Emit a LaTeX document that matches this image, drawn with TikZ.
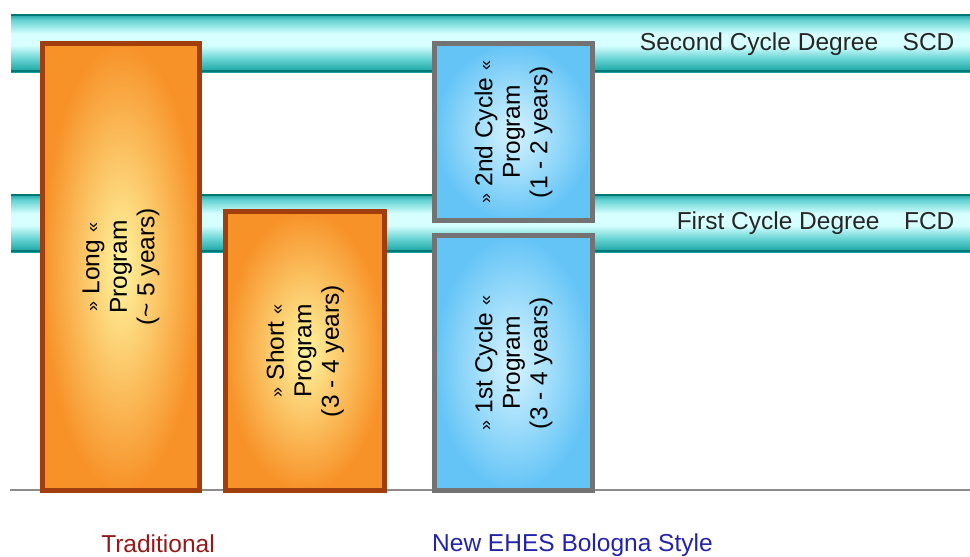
\documentclass[tikz,border=0pt]{standalone}
\usepackage{fontspec}
\setmainfont{Liberation Sans}
\usepackage{tikz}
\usetikzlibrary{positioning}

\definecolor{bandteal}{RGB}{22,160,160}
\definecolor{banddark}{RGB}{0,120,120}
\definecolor{bandmid}{RGB}{100,210,210}
\definecolor{bandlight}{RGB}{215,255,255}
\definecolor{boxorange}{RGB}{247,146,40}
\definecolor{palegold}{RGB}{255,245,160}
\definecolor{rustbrown}{RGB}{160,62,14}
\definecolor{skyblue}{RGB}{100,196,246}
\definecolor{paleblue}{RGB}{215,244,255}
\definecolor{slategray}{RGB}{115,115,115}
\definecolor{axisgray}{RGB}{140,140,140}
\definecolor{oldred}{RGB}{150,25,25}
\definecolor{newblue}{RGB}{35,35,170}

\newcommand{\gopen}{\raisebox{1pt}{\fontsize{18}{18}\selectfont»}}
\newcommand{\gclose}{\raisebox{1pt}{\fontsize{18}{18}\selectfont«}}

\pgfdeclareverticalshading{tube}{100bp}{color(0bp)=(bandteal); color(25bp)=(bandteal);
  color(36bp)=(bandmid); color(48bp)=(bandlight); color(58bp)=(bandlight);
  color(70bp)=(bandmid); color(75bp)=(bandteal); color(100bp)=(bandteal)}

\begin{document}
\begin{tikzpicture}[x=1pt,y=-1pt,
  every node/.style={font=\fontsize{24.5}{27.5}\selectfont},
  band/.style={shading=tube},
  rim/.style={banddark, line width=2pt},
  oldbox/.style={draw=rustbrown, line width=5pt, inner color=palegold, outer color=boxorange,
    rotate=90, align=center, inner sep=0pt},
  newbox/.style={draw=slategray, line width=5pt, inner color=paleblue, outer color=skyblue,
    rotate=90, align=center, inner sep=0pt}]
\useasboundingbox (0,0) rectangle (970,557);

% degree bands
\shade[band] (11,14) rectangle (970,72);
\draw[rim] (11,15) -- (970,15) (11,71) -- (970,71);
\shade[band] (11,194) rectangle (970,252);
\draw[rim] (11,195) -- (970,195) (11,251) -- (970,251);
\node[anchor=east, text=black!85] (scd) at (958,44) {Second Cycle Degree\quad SCD};
\node[anchor=east, text=black!85] (fcd) at (958,223) {First Cycle Degree\quad FCD};

% time axis
\coordinate (axisL) at (10,490);
\coordinate (axisR) at (970,490);
\draw[axisgray, line width=2.5pt] (axisL) -- (axisR);

% traditional programs
\node[oldbox, minimum width=447pt, minimum height=157pt] (long) at (121,267)
  {\gopen\ Long \gclose\\ Program\\ (\textasciitilde\ 5 years)};
\node[oldbox, minimum width=279pt, minimum height=159pt] (short) at (305,351)
  {\gopen\ Short \gclose\\ Program\\ (3 - 4 years)};

% bologna programs
\node[newbox, minimum width=177pt, minimum height=158pt] (second) at (513.5,132)
  {\gopen\ 2nd Cycle \gclose\\ Program\\ (1 - 2 years)};
\node[newbox, minimum width=255pt, minimum height=158pt] (first) at (513.5,363)
  {\gopen\ 1st Cycle \gclose\\ Program\\ (3 - 4 years)};

\node[text=oldred] (trad) at (158,544) {Traditional};
\node[text=newblue, anchor=west, inner sep=0pt] (bologna) at (432,545) {New EHES Bologna Style};
\end{tikzpicture}
\end{document}
